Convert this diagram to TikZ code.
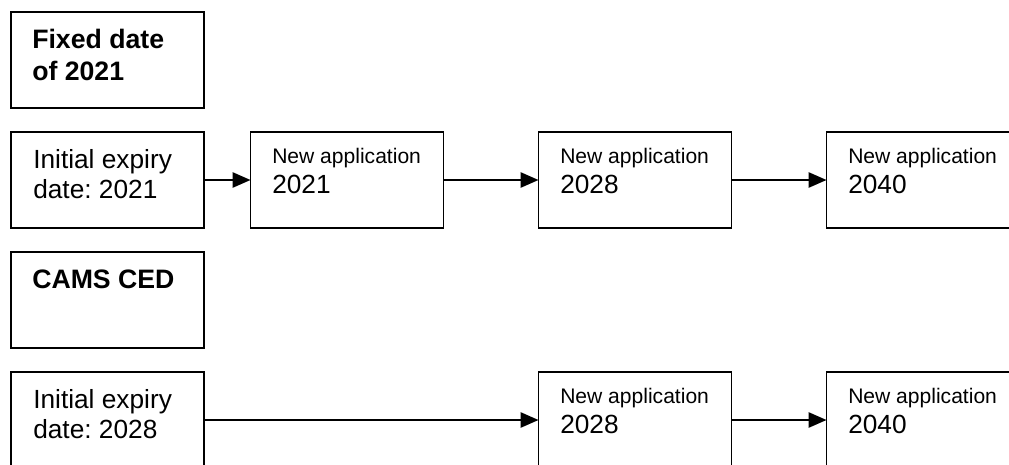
\documentclass[tikz,border=0pt]{standalone}
\usepackage{fontspec}
\setmainfont{Liberation Sans}
\usetikzlibrary{arrows.meta}
\frenchspacing
\begin{document}
\begin{tikzpicture}[x=0.75pt,y=-0.75pt,
  box/.style={draw=black,line width=1.4pt,rectangle,minimum width=144.75pt,minimum height=72pt,inner sep=0pt,outer sep=0pt},
  big/.style={anchor=base west,inner sep=0pt,font=\fontsize{19.7}{23}\selectfont},
  bigb/.style={anchor=base west,inner sep=0pt,font=\fontsize{20}{23}\selectfont\bfseries},
  small/.style={anchor=base west,inner sep=0pt,font=\fontsize{15.8}{19}\selectfont},
  conn/.style={line width=1.4pt,-{Triangle[length=13.5pt,width=11.5pt]}}]
\useasboundingbox (0,0) rectangle (1009,464);
\clip (0,0) rectangle (1009,464);
% first group
\node[box] (t1) at (107.5,60) {};
\node[bigb] (t1a) at (32,48) {Fixed date};
\node[bigb] (t1b) at (32,80) {of 2021};
\node[box] (a1) at (107.5,180) {};
\node[big] (a1a) at (33,168) {Initial expiry};
\node[big] (a1b) at (33,198) {date: 2021};
\node[box] (a2) at (347,180) {};
\node[small] (a2a) at (272,163) {New application};
\node[big] (a2b) at (272,193) {2021};
\node[box] (a3) at (635,180) {};
\node[small] (a3a) at (560,163) {New application};
\node[big] (a3b) at (560,193) {2028};
\node[box] (a4) at (923,180) {};
\node[small] (a4a) at (848,163) {New application};
\node[big] (a4b) at (848,193) {2040};
\draw[conn] (a1.east) -- (a2.west);
\draw[conn] (a2.east) -- (a3.west);
\draw[conn] (a3.east) -- (a4.west);
% second group
\node[box] (t2) at (107.5,300) {};
\node[bigb] (t2a) at (32,288) {CAMS CED};
\node[box] (b1) at (107.5,420) {};
\node[big] (b1a) at (33,408) {Initial expiry};
\node[big] (b1b) at (33,438) {date: 2028};
\node[box] (b3) at (635,420) {};
\node[small] (b3a) at (560,403) {New application};
\node[big] (b3b) at (560,433) {2028};
\node[box] (b4) at (923,420) {};
\node[small] (b4a) at (848,403) {New application};
\node[big] (b4b) at (848,433) {2040};
\draw[conn] (b1.east) -- (b3.west);
\draw[conn] (b3.east) -- (b4.west);
\end{tikzpicture}
\end{document}
